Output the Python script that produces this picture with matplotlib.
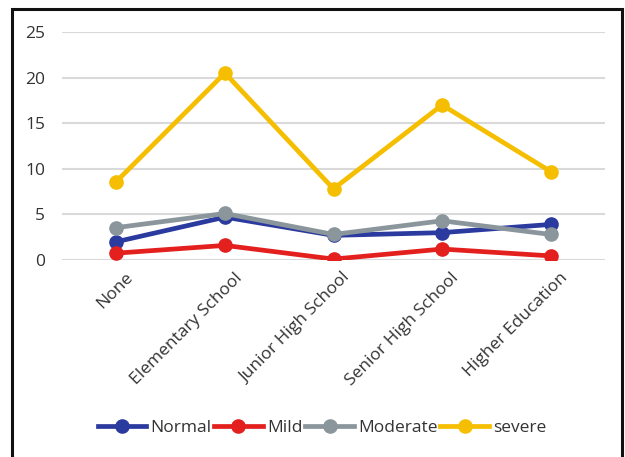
import matplotlib
matplotlib.use("Agg")
import matplotlib.pyplot as plt
from matplotlib.patches import Rectangle
from matplotlib.transforms import ScaledTranslation

categories = ["None", "Elementary School", "Junior High School", "Senior High School", "Higher Education"]
normal = [2.0, 4.7, 2.7, 3.0, 3.9]
mild = [0.75, 1.6, 0.1, 1.2, 0.45]
moderate = [3.55, 5.1, 2.8, 4.3, 2.8]
severe = [8.6, 20.5, 7.8, 17.0, 9.7]
yticks = [0, 5, 10, 15, 20, 25]

series = [
    ("Normal", normal, "#2B3A9E"),
    ("Mild", mild, "#E3201E"),
    ("Moderate", moderate, "#8A969C"),
    ("severe", severe, "#F5BE00"),
]

plt.rcParams["font.family"] = ["Open Sans", "DejaVu Sans"]

fig = plt.figure(figsize=(6.25, 4.57), dpi=100)
ax = fig.add_axes([62 / 625, 1 - 260 / 457, 543 / 625, 228 / 457])

x = list(range(len(categories)))
for name, vals, color in series:
    ax.plot(x, vals, color=color, lw=3.4, marker="o", ms=9.5, label=name,
            solid_joinstyle="round", zorder=3)

ax.set_xlim(-0.5, len(categories) - 0.5)
ax.set_ylim(0, 25)
ax.set_yticks(yticks)
ax.set_yticklabels([str(v) for v in yticks], fontsize=12.5, color="#333333")
ax.set_xticks(x)
ax.set_xticklabels(categories, rotation=45, ha="right", va="top",
                   rotation_mode="anchor", fontsize=12.5, color="#333333")
ax.tick_params(axis="both", length=0)
ax.tick_params(axis="y", pad=12)
ax.tick_params(axis="x", pad=7)
for lab in ax.get_xticklabels():
    lab.set_transform(lab.get_transform() + ScaledTranslation(9 / 100, 0, fig.dpi_scale_trans))
ax.grid(axis="y", color="#D9D9D9", lw=1.5)
ax.set_axisbelow(True)
for s in ax.spines.values():
    s.set_visible(False)

leg = fig.legend(loc="center", bbox_to_anchor=(322 / 625, 1 - 428 / 457), ncol=4,
                 frameon=False, fontsize=12.5, handlelength=2.8, handletextpad=0.25,
                 columnspacing=0.15)
for t in leg.get_texts():
    t.set_color("#333333")

fig.patches.append(Rectangle((12 / 625, -0.1), 610 / 625, 1.1 - 9 / 457,
                             transform=fig.transFigure, fill=False,
                             edgecolor="#111111", lw=2.2))

fig.savefig("out.png", dpi=100, facecolor="white")
